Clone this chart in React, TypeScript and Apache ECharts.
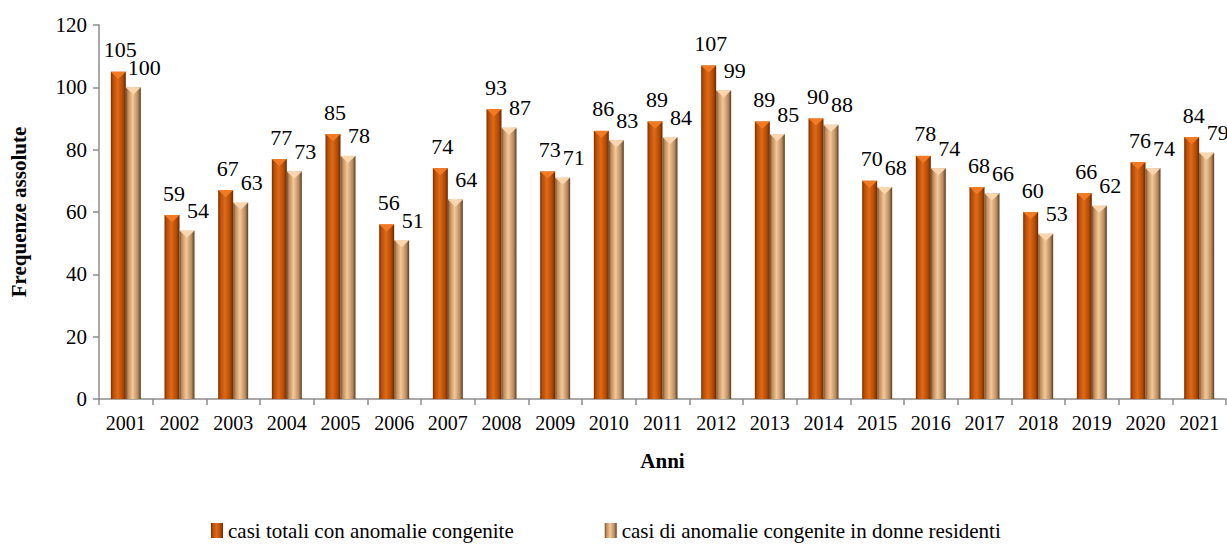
import React, { useEffect, useRef } from "react";
import * as echarts from "echarts";

const years = ["2001","2002","2003","2004","2005","2006","2007","2008","2009","2010","2011","2012","2013","2014","2015","2016","2017","2018","2019","2020","2021"];
const totali = [105,59,67,77,85,56,74,93,73,86,89,107,89,90,70,78,68,60,66,76,84];
const residenti = [100,54,63,73,78,51,64,87,71,83,84,99,85,88,68,74,66,53,62,74,79];
const yTicks = { min: 0, max: 120, interval: 20 };
const seriesNames = ["casi totali con anomalie congenite", "casi di anomalie congenite in donne residenti"];

const FONT = "Liberation Serif";
const BEVEL = "path://M0,0 L20,0 L10,10 Z";

export default function App() {
  const ref = useRef<HTMLDivElement>(null);
  useEffect(() => {
    if (!ref.current) return;
    const chart = echarts.init(ref.current, null, { renderer: "svg" });
    const orangeGrad = new echarts.graphic.LinearGradient(0, 0, 1, 0, [
      { offset: 0, color: "#7a2e00" },
      { offset: 0.15, color: "#b84c08" },
      { offset: 0.45, color: "#e06a14" },
      { offset: 0.8, color: "#b04a08" },
      { offset: 1, color: "#6a2800" },
    ]);
    const beigeGrad = new echarts.graphic.LinearGradient(0, 0, 1, 0, [
      { offset: 0, color: "#6e4a2a" },
      { offset: 0.15, color: "#c08c5c" },
      { offset: 0.45, color: "#f4c898" },
      { offset: 0.8, color: "#b98c60" },
      { offset: 1, color: "#5a3c20" },
    ]);
    chart.setOption({
      animation: false,
      textStyle: { fontFamily: FONT },
      grid: { left: 98, right: 1, top: 25, bottom: 145, containLabel: false },
      legend: {
        left: 211,
        top: 520,
        padding: 0,
        itemGap: 91,
        itemWidth: 12,
        itemHeight: 15,
        icon: "rect",
        textStyle: { fontFamily: FONT, fontSize: 21, color: "#000" },
        data: seriesNames,
      },
      xAxis: {
        type: "category",
        data: years,
        name: "Anni",
        nameLocation: "middle",
        nameGap: 51,
        nameTextStyle: { fontFamily: FONT, fontSize: 21, fontWeight: "bold", color: "#000" },
        axisLine: { lineStyle: { color: "#8c8c8c", width: 1.5 } },
        axisTick: { show: true, length: 6, alignWithLabel: false, lineStyle: { color: "#8c8c8c", width: 1.5 } },
        axisLabel: { fontFamily: FONT, fontSize: 20, color: "#000", margin: 14, interval: 0 },
      },
      yAxis: {
        type: "value",
        min: yTicks.min,
        max: yTicks.max,
        interval: yTicks.interval,
        name: "Frequenze assolute",
        nameLocation: "middle",
        nameGap: 70,
        nameTextStyle: { fontFamily: FONT, fontSize: 21, fontWeight: "bold", color: "#000" },
        splitLine: { show: false },
        axisLine: { show: true, lineStyle: { color: "#8c8c8c", width: 1.5 } },
        axisTick: { show: true, length: 6, lineStyle: { color: "#8c8c8c", width: 1.5 } },
        axisLabel: { fontFamily: FONT, fontSize: 21, color: "#000", margin: 12 },
      },
      series: [
        {
          name: seriesNames[0],
          type: "bar",
          data: totali,
          barWidth: 15,
          barGap: "0%",
          itemStyle: { color: orangeGrad },
          label: {
            show: true,
            position: "top",
            distance: 11,
            offset: [2, 0],
            fontFamily: FONT,
            fontSize: 22,
            color: "#000",
          },
        },
        {
          name: seriesNames[1],
          type: "bar",
          data: residenti,
          barWidth: 15,
          barGap: "0%",
          itemStyle: { color: beigeGrad },
          label: {
            show: true,
            position: "top",
            distance: 9,
            offset: [11, 0],
            fontFamily: FONT,
            fontSize: 22,
            color: "#000",
          },
        },
        {
          name: "bevel1",
          type: "pictorialBar",
          data: totali,
          symbol: BEVEL,
          symbolSize: [15, 7],
          symbolPosition: "end",
          symbolOffset: [-7.5, 0],
          z: 5,
          silent: true,
          itemStyle: { color: "#f27a22" },
        },
        {
          name: "bevel2",
          type: "pictorialBar",
          data: residenti,
          symbol: BEVEL,
          symbolSize: [15, 7],
          symbolPosition: "end",
          symbolOffset: [7.5, 0],
          z: 5,
          silent: true,
          itemStyle: { color: "#f9d6ae" },
        },
      ],
    });
    return () => chart.dispose();
  }, []);
  return (
    <div
      ref={ref}
      style={{ position: "fixed", left: 0, top: 0, width: 1227, height: 544, background: "#fff" }}
    />
  );
}
